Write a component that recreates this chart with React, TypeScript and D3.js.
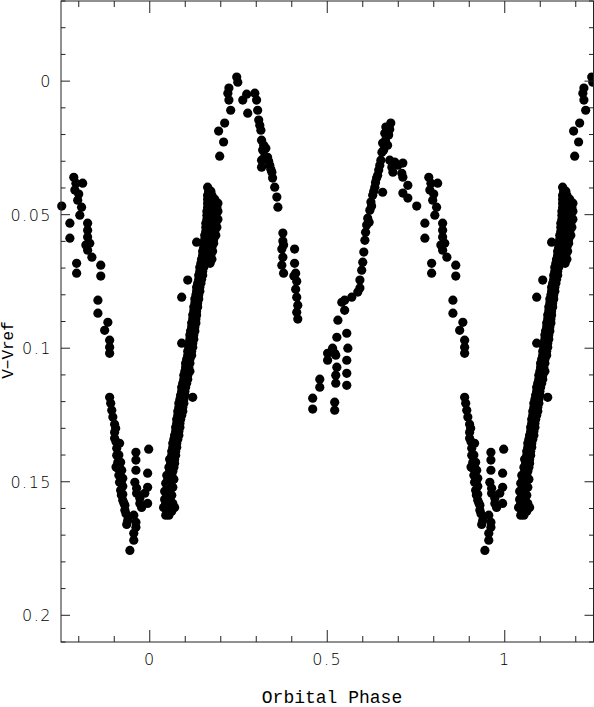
import { useEffect, useRef } from 'react'
import * as d3 from 'd3'

// one orbital cycle, [phase, V - Vref]; drawn again at phase -1 and +1
const risingBranchA: [number, number][] = [
  [0.045, 0.1625], [0.054, 0.1625],
  [0.039, 0.1596], [0.054, 0.1596], [0.070, 0.1596],
  [0.042, 0.1566], [0.056, 0.1566],
  [0.042, 0.1536], [0.056, 0.1536],
  [0.045, 0.1506], [0.059, 0.1506],
  [0.048, 0.1476], [0.062, 0.1476],
  [0.054, 0.1446], [0.068, 0.1446],
  [0.056, 0.1416], [0.070, 0.1416],
  [0.062, 0.1386], [0.073, 0.1386],
  [0.065, 0.1356], [0.076, 0.1356],
  [0.070, 0.1326], [0.082, 0.1326],
  [0.073, 0.1296], [0.085, 0.1296],
  [0.076, 0.1266], [0.087, 0.1266],
  [0.079, 0.1236], [0.093, 0.1236],
  [0.082, 0.1206], [0.096, 0.1206],
  [0.087, 0.1176], [0.099, 0.1176],
  [0.090, 0.1146], [0.101, 0.1146],
  [0.096, 0.1116], [0.107, 0.1116],
  [0.099, 0.1086], [0.113, 0.1086],
  [0.101, 0.1056], [0.113, 0.1056],
  [0.107, 0.1026], [0.118, 0.1026],
  [0.110, 0.0996], [0.121, 0.0996],
  [0.113, 0.0966], [0.124, 0.0966],
  [0.115, 0.0936], [0.127, 0.0936],
  [0.118, 0.0906], [0.130, 0.0906],
  [0.121, 0.0876], [0.132, 0.0876],
  [0.124, 0.0846], [0.135, 0.0846],
  [0.127, 0.0816], [0.138, 0.0816],
  [0.132, 0.0787], [0.141, 0.0787],
  [0.135, 0.0757], [0.144, 0.0757],
  [0.138, 0.0727], [0.149, 0.0727],
  [0.141, 0.0697], [0.152, 0.0697],
  [0.146, 0.0667], [0.158, 0.0667], [0.175, 0.0667],
  [0.149, 0.0637], [0.163, 0.0637], [0.177, 0.0637],
  [0.152, 0.0607], [0.166, 0.0607], [0.180, 0.0607],
  [0.155, 0.0577], [0.169, 0.0577], [0.186, 0.0577],
  [0.158, 0.0547], [0.172, 0.0547], [0.189, 0.0547],
  [0.161, 0.0517], [0.175, 0.0517], [0.192, 0.0517],
  [0.161, 0.0487], [0.177, 0.0487], [0.192, 0.0487],
  [0.163, 0.0457], [0.177, 0.0457], [0.192, 0.0457],
  [0.163, 0.0427], [0.175, 0.0427],
  [0.163, 0.0397],
  [0.107, 0.0745], [0.090, 0.0809], [0.090, 0.0981], [0.132, 0.0603], [0.121, 0.1184],
]

// the same branch, the points lying between the rows above
const risingBranchAFill: [number, number][] = [
  [0.048, 0.1610], [0.062, 0.1610],
  [0.045, 0.1581], [0.059, 0.1581], [0.065, 0.1581],
  [0.048, 0.1551], [0.062, 0.1551],
  [0.050, 0.1521], [0.065, 0.1521],
  [0.051, 0.1491], [0.062, 0.1491], [0.068, 0.1491],
  [0.056, 0.1461], [0.065, 0.1461],
  [0.059, 0.1431], [0.070, 0.1431],
  [0.062, 0.1401], [0.073, 0.1401],
  [0.065, 0.1371], [0.076, 0.1371],
  [0.068, 0.1341], [0.079, 0.1341],
  [0.073, 0.1311], [0.082, 0.1311],
  [0.076, 0.1281], [0.085, 0.1281],
  [0.079, 0.1251], [0.090, 0.1251],
  [0.082, 0.1221], [0.093, 0.1221],
  [0.085, 0.1191], [0.096, 0.1191],
  [0.090, 0.1161], [0.099, 0.1161],
  [0.093, 0.1131], [0.104, 0.1131],
  [0.096, 0.1101], [0.107, 0.1101],
  [0.101, 0.1071], [0.110, 0.1071],
  [0.104, 0.1041], [0.113, 0.1041],
  [0.107, 0.1011], [0.118, 0.1011],
  [0.110, 0.0981], [0.121, 0.0981],
  [0.113, 0.0951], [0.124, 0.0951],
  [0.118, 0.0921], [0.127, 0.0921],
  [0.121, 0.0891], [0.130, 0.0891],
  [0.124, 0.0861], [0.132, 0.0861],
  [0.127, 0.0831], [0.135, 0.0831],
  [0.130, 0.0801], [0.138, 0.0801],
  [0.132, 0.0772], [0.141, 0.0772],
  [0.138, 0.0742], [0.146, 0.0742],
  [0.141, 0.0712], [0.149, 0.0712],
  [0.144, 0.0682], [0.155, 0.0682], [0.170, 0.0682],
  [0.149, 0.0652], [0.160, 0.0652], [0.172, 0.0652],
  [0.152, 0.0622], [0.163, 0.0622], [0.175, 0.0622],
  [0.155, 0.0592], [0.166, 0.0592], [0.180, 0.0592],
  [0.158, 0.0562], [0.169, 0.0562], [0.183, 0.0562],
  [0.158, 0.0532], [0.172, 0.0532], [0.186, 0.0532],
  [0.161, 0.0502], [0.172, 0.0502], [0.186, 0.0502],
  [0.163, 0.0472], [0.175, 0.0472], [0.189, 0.0472],
  [0.163, 0.0442], [0.172, 0.0442], [0.183, 0.0442],
  [0.166, 0.0412], [0.172, 0.0412],
]

const firstMaximum: [number, number][] = [
  [0.194, 0.0187], [0.208, 0.0228], [0.211, 0.0157], [0.197, 0.0281],
  [0.228, 0.0109], [0.223, 0.0071], [0.220, 0.0045], [0.223, 0.0026],
  [0.245, -0.0015], [0.248, 0.0004], [0.262, 0.0071], [0.273, 0.0049],
  [0.276, 0.0120], [0.296, 0.0045], [0.301, 0.0071], [0.304, 0.0109],
  [0.307, 0.0146], [0.313, 0.0184], [0.315, 0.0221], [0.318, 0.0258],
  [0.315, 0.0296], [0.315, 0.0322], [0.327, 0.0251], [0.332, 0.0285],
  [0.338, 0.0315], [0.344, 0.0341], [0.346, 0.0363], [0.352, 0.0397],
  [0.358, 0.0434], [0.361, 0.0472], [0.310, 0.0165], [0.321, 0.0240],
  [0.324, 0.0280], [0.335, 0.0300], [0.341, 0.0330],
]

const descentA: [number, number][] = [
  [0.375, 0.0569], [0.375, 0.0599], [0.377, 0.0614], [0.372, 0.0629],
  [0.375, 0.0659], [0.372, 0.0689], [0.377, 0.0719],
  [0.408, 0.0629], [0.408, 0.0682], [0.406, 0.0730], [0.411, 0.0719],
  [0.414, 0.0749], [0.411, 0.0779], [0.414, 0.0809], [0.417, 0.0839],
  [0.414, 0.0865], [0.417, 0.0891],
]

const risingBranchB: [number, number][] = [
  [0.459, 0.1187], [0.459, 0.1228], [0.479, 0.1116], [0.479, 0.1146],
  [0.521, 0.1202], [0.521, 0.1232], [0.501, 0.1019], [0.501, 0.1045],
  [0.515, 0.1000], [0.521, 0.1019], [0.527, 0.0959], [0.524, 0.1026],
  [0.527, 0.1071], [0.524, 0.1101], [0.524, 0.1131],
  [0.555, 0.0944], [0.558, 0.1000], [0.555, 0.1045], [0.555, 0.1094],
  [0.555, 0.1139], [0.530, 0.0895], [0.541, 0.0828], [0.549, 0.0858],
  [0.549, 0.0820], [0.569, 0.0809], [0.586, 0.0790], [0.592, 0.0745],
  [0.592, 0.0775], [0.597, 0.0708], [0.600, 0.0678], [0.606, 0.0596],
  [0.608, 0.0566], [0.611, 0.0539], [0.614, 0.0513], [0.620, 0.0483],
  [0.623, 0.0453], [0.628, 0.0427], [0.634, 0.0397], [0.639, 0.0363],
  [0.645, 0.0333], [0.651, 0.0296], [0.654, 0.0266], [0.656, 0.0232],
  [0.662, 0.0195], [0.665, 0.0172], [0.679, 0.0157], [0.673, 0.0202],
  [0.670, 0.0240], [0.618, 0.0528], [0.625, 0.0468], [0.631, 0.0412],
  [0.642, 0.0352], [0.659, 0.0258], [0.656, 0.0416], [0.603, 0.0640],
  [0.636, 0.0380], [0.648, 0.0315], [0.664, 0.0222], [0.676, 0.0180],
]

const descentB: [number, number][] = [
  [0.676, 0.0296], [0.682, 0.0322], [0.690, 0.0303], [0.699, 0.0315],
  [0.713, 0.0307], [0.685, 0.0341], [0.710, 0.0345], [0.713, 0.0360],
  [0.727, 0.0390], [0.713, 0.0419], [0.727, 0.0438], [0.752, 0.0468],
  [0.786, 0.0360], [0.792, 0.0382], [0.811, 0.0382], [0.789, 0.0408],
  [0.797, 0.0446], [0.808, 0.0472], [0.803, 0.0502], [0.800, 0.0423],
  [0.775, 0.0532], [0.775, 0.0588], [0.825, 0.0532], [0.825, 0.0558],
  [0.825, 0.0584], [0.831, 0.0607], [0.825, 0.0633], [0.837, 0.0659],
  [0.820, 0.0614], [0.794, 0.0682], [0.794, 0.0719], [0.862, 0.0689],
  [0.862, 0.0730], [0.854, 0.0820], [0.854, 0.0869], [0.882, 0.0903],
  [0.873, 0.0933], [0.887, 0.0970], [0.887, 0.0996], [0.887, 0.1019],
]

const primaryMinimum: [number, number][] = [
  [0.887, 0.1184], [0.890, 0.1206], [0.893, 0.1232], [0.896, 0.1258],
  [0.901, 0.1285], [0.901, 0.1315], [0.901, 0.1337], [0.915, 0.1356],
  [0.907, 0.1375], [0.907, 0.1401], [0.910, 0.1427], [0.918, 0.1427],
  [0.910, 0.1449], [0.921, 0.1457], [0.913, 0.1476], [0.924, 0.1487],
  [0.915, 0.1502], [0.924, 0.1517], [0.918, 0.1532], [0.924, 0.1547],
  [0.924, 0.1569], [0.930, 0.1588], [0.930, 0.1607], [0.938, 0.1644],
  [0.955, 0.1625], [0.961, 0.1652], [0.961, 0.1670], [0.955, 0.1693],
  [0.955, 0.1719], [0.944, 0.1757], [0.961, 0.1390], [0.961, 0.1419],
  [0.961, 0.1457], [0.958, 0.1502], [0.963, 0.1524], [0.963, 0.1543],
  [0.972, 0.1562], [0.972, 0.1581], [0.977, 0.1596], [0.986, 0.1543],
  [0.994, 0.1468], [0.994, 0.1521], [0.994, 0.1581], [0.997, 0.1378],
  [0.904, 0.1300], [0.905, 0.1350], [0.913, 0.1400], [0.916, 0.1450],
  [0.920, 0.1500], [0.920, 0.1550], [0.927, 0.1580], [0.933, 0.1620],
  [0.935, 0.1660], [0.905, 0.1445],
]

const xTickLabels = [0, 0.5, 1]
const yTickLabels = [0, 0.05, 0.1, 0.15, 0.2]

export default function App() {
  const ref = useRef<SVGSVGElement>(null)

  useEffect(() => {
    const width = 594
    const height = 707
    const left = 61
    const right = 593.5
    const top = 1
    const bottom = 642

    const svg = d3.select(ref.current)
    svg.selectAll('*').remove()

    const x = d3.scaleLinear().domain([-0.25, 1.25]).range([left, right])
    const y = d3.scaleLinear().domain([-0.03, 0.21]).range([top, bottom])

    const cycle = [
      ...risingBranchA, ...risingBranchAFill, ...firstMaximum, ...descentA,
      ...risingBranchB, ...descentB, ...primaryMinimum,
    ]
    const points: [number, number][] = []
    for (const shift of [-1, 0, 1]) {
      cycle.forEach(([p, m]) => {
        const ph = p + shift
        if (ph >= -0.252 && ph <= 1.252) points.push([ph, m])
      })
    }

    // points
    svg.append('g')
      .selectAll('circle')
      .data(points)
      .join('circle')
      .attr('cx', d => x(d[0]))
      .attr('cy', d => y(d[1]))
      .attr('r', 4.6)
      .attr('fill', '#000')

    // frame
    svg.append('rect')
      .attr('x', left).attr('y', top)
      .attr('width', right - left).attr('height', bottom - top)
      .attr('fill', 'none').attr('stroke', '#222').attr('stroke-width', 1)

    const ticks = svg.append('g').attr('stroke', '#222').attr('stroke-width', 1)

    // x ticks, bottom and top
    d3.range(-2, 13).forEach(i => {
      const v = i / 10
      const major = i % 5 === 0
      const len = major ? 12 : 6
      const px = x(v)
      ticks.append('line').attr('x1', px).attr('x2', px).attr('y1', bottom).attr('y2', bottom - len)
      ticks.append('line').attr('x1', px).attr('x2', px).attr('y1', top).attr('y2', top + len)
    })

    // y ticks, left and right
    d3.range(-3, 22).forEach(i => {
      const v = i / 100
      const major = i % 5 === 0
      const len = major ? 9 : 4.5
      const py = y(v)
      ticks.append('line').attr('x1', left).attr('x2', left + len).attr('y1', py).attr('y2', py)
      ticks.append('line').attr('x1', right).attr('x2', right - len).attr('y1', py).attr('y2', py)
    })

    const labelFont = '"DejaVu Sans", sans-serif'

    svg.append('g')
      .selectAll('text')
      .data(xTickLabels)
      .join('text')
      .attr('x', d => x(d))
      .attr('y', 665)
      .attr('text-anchor', 'middle')
      .style('font-family', labelFont)
      .style('font-weight', 200)
      .style('font-size', '16px')
      .style('letter-spacing', '1.5px')
      .text(d => String(d))

    svg.append('g')
      .selectAll('text')
      .data(yTickLabels)
      .join('text')
      .attr('x', 52)
      .attr('y', d => y(d) + 6)
      .attr('text-anchor', 'end')
      .style('font-family', labelFont)
      .style('font-weight', 200)
      .style('font-size', '16px')
      .style('letter-spacing', '1.5px')
      .text(d => String(d))

    svg.append('text')
      .attr('x', 332)
      .attr('y', 703)
      .attr('text-anchor', 'middle')
      .style('font-family', '"Liberation Mono", monospace')
      .style('font-size', '18px')
      .text('Orbital Phase')

    svg.append('text')
      .attr('transform', 'translate(13,350) rotate(-90)')
      .attr('text-anchor', 'middle')
      .style('font-family', '"Liberation Mono", monospace')
      .style('font-size', '16px')
      .text('V\u2212Vref')

    svg.attr('width', width).attr('height', height)
  }, [])

  return (
    <svg
      ref={ref}
      width={594}
      height={707}
      style={{ position: 'absolute', left: 0, top: 0, background: '#fff' }}
    />
  )
}
